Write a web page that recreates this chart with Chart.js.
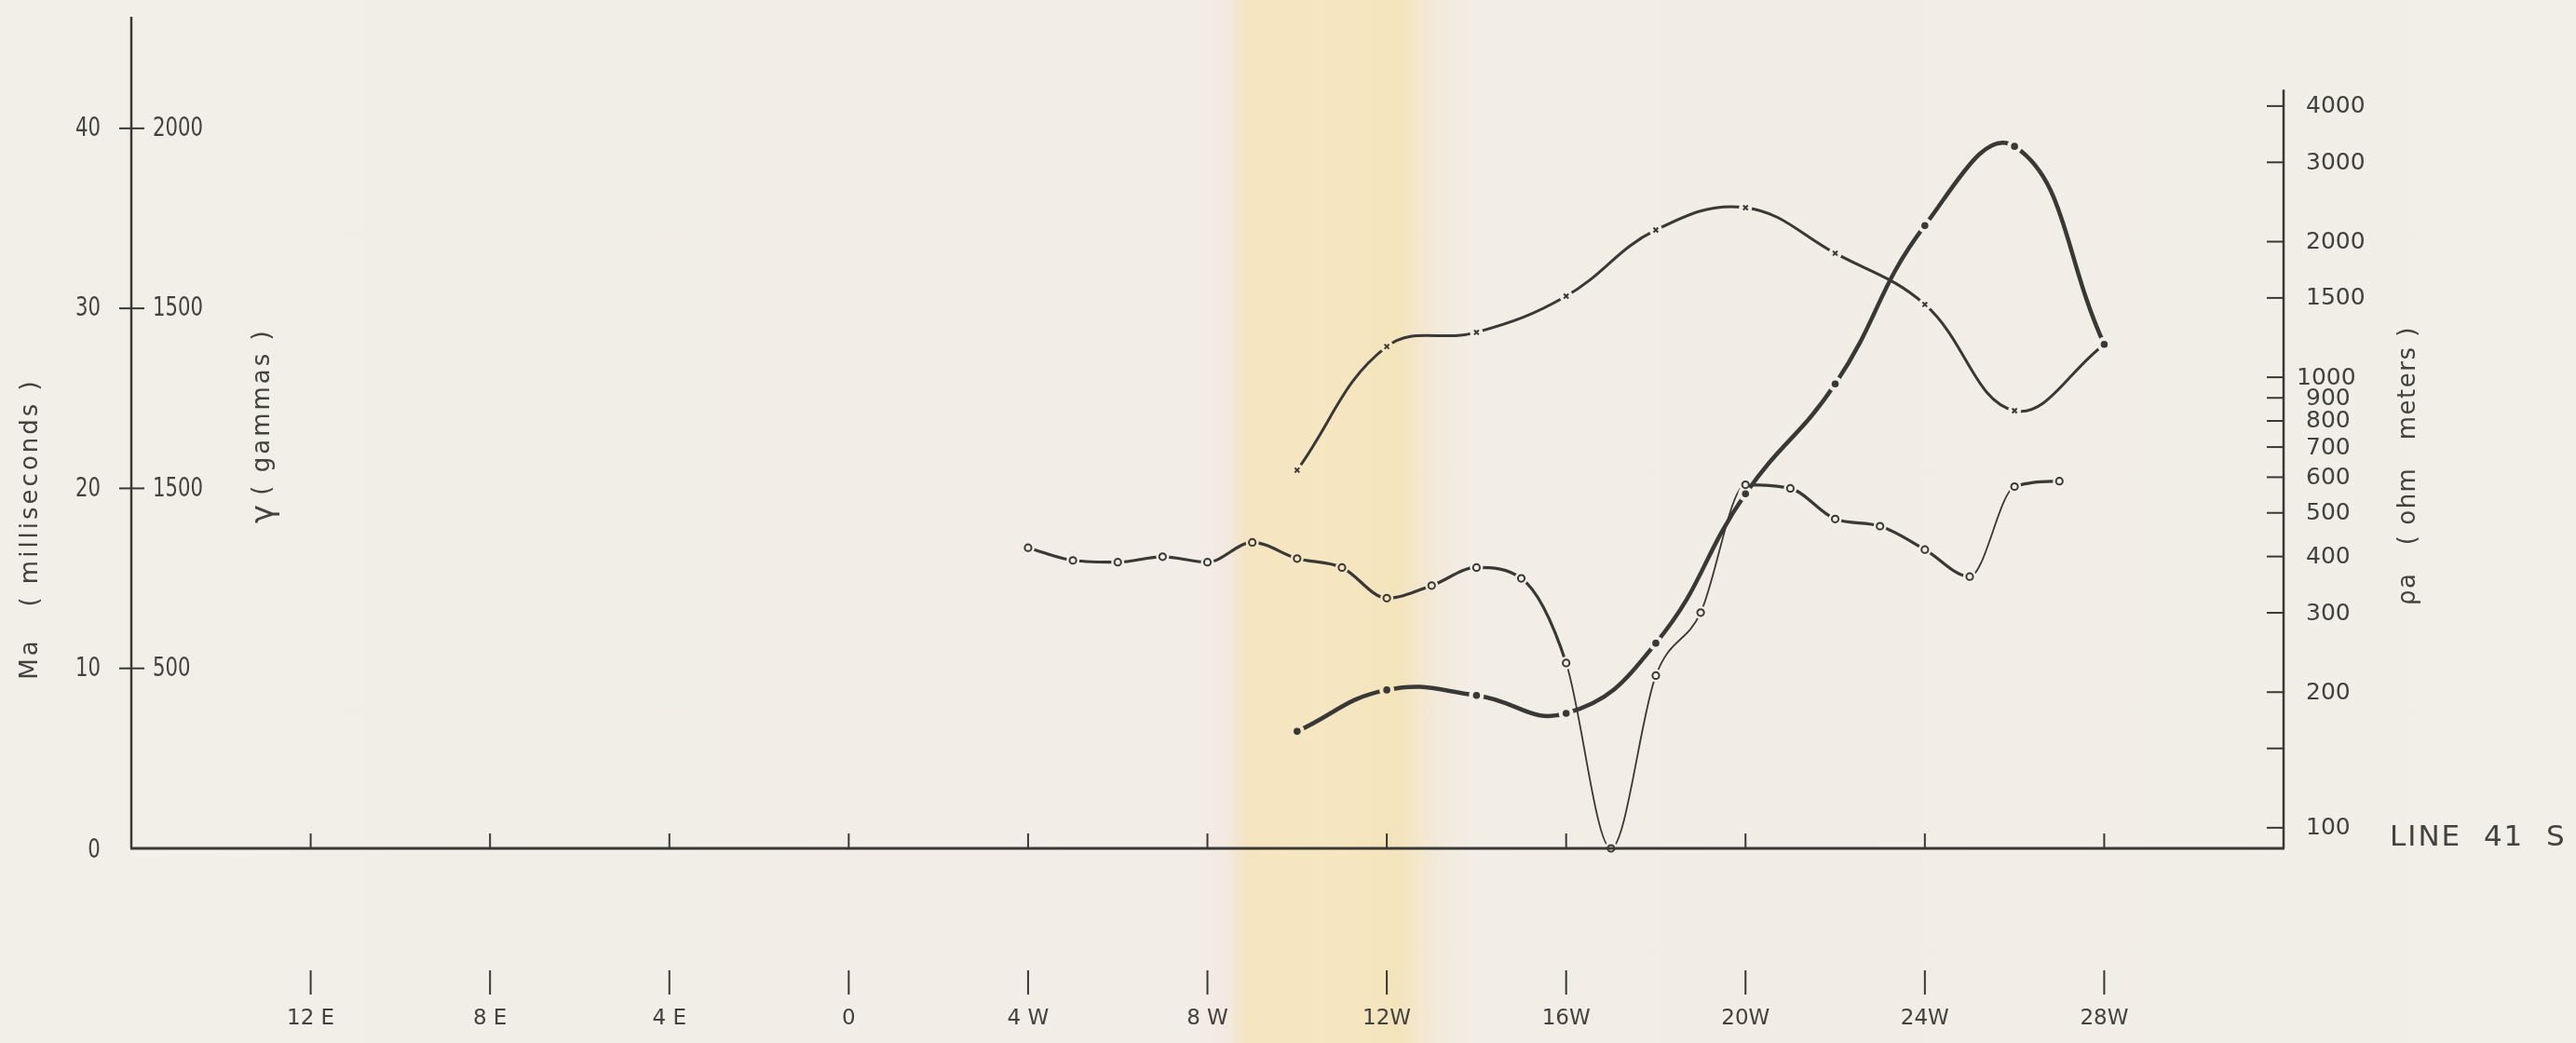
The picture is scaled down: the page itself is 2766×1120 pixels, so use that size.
<!DOCTYPE html>
<html>
<head>
<meta charset="utf-8">
<script src="https://cdn.jsdelivr.net/npm/chart.js@4.4.1/dist/chart.umd.min.js"></script>
<style>
  html, body { margin: 0; padding: 0; }
  body {
    width: 2766px; height: 1120px; overflow: hidden;
    background: linear-gradient(to right,
      #f1efe8 0px, #f2eee7 1280px, #f3e9e0 1318px, #f5e4c0 1340px,
      #f6e7c3 1420px, #f4e4bc 1500px, #f3e9d8 1540px, #f2ede5 1575px, #f1efe8 2766px);
  }
  canvas { display: block; }
</style>
</head>
<body>
<canvas id="chart" width="2766" height="1120"></canvas>
<script>
// stations: E is negative, W is positive
const stationTicks = [-12, -8, -4, 0, 4, 8, 12, 16, 20, 24, 28];
const stationLabels = ['12 E', '8 E', '4 E', '0', '4 W', '8 W', '12W', '16W', '20W', '24W', '28W'];

// Ma (milliseconds), filled dots
const maStations = [10, 12, 14, 16, 18, 20, 22, 24, 26, 28];
const maValues = [6.5, 8.8, 8.5, 7.5, 11.4, 19.7, 25.8, 34.6, 39.0, 28.0];

// rho a (ohm meters), crosses
const rhoStations = [10, 12, 14, 16, 18, 20, 22, 24, 26, 28];
const rhoValues = [622, 1170, 1258, 1514, 2123, 2380, 1885, 1451, 843, 1182];

// open circles, read on the Ma scale
const circleStations = [4, 5, 6, 7, 8, 9, 10, 11, 12, 13, 14, 15, 16, 17, 18, 19, 20, 21, 22, 23, 24, 25, 26, 27];
const circleValues = [16.7, 16.0, 15.9, 16.2, 15.9, 17.0, 16.1, 15.6, 13.9, 14.6, 15.6, 15.0,
  10.3, 0, 9.6, 13.1, 20.2, 20.0, 18.3, 17.9, 16.6, 15.1, 20.1, 20.4];

// left axis ticks (Ma) and the gamma labels written beside them
const maTicks = [10, 20, 30, 40];
const maTickLabels = ['10', '20', '30', '40'];
const gammaTickLabels = ['500', '1500', '1500', '2000'];

// right axis ticks (log)
const rhoTicks = [100, 150, 200, 300, 400, 500, 600, 700, 800, 900, 1000, 1500, 2000, 3000, 4000];
const rhoTickLabels = ['100', '', '200', '300', '400', '500', '600', '700', '800', '900', '1000', '1500', '2000', '3000', '4000'];

const INK = '#383836';
const TEXT = '#42423f';
const FONT = '"DejaVu Sans", "Liberation Sans", sans-serif';

const pts = (xs, ys) => xs.map((x, i) => ({ x, y: ys[i] }));

/** Cut a small gap round every point of a line dataset, like the pen lifts in the drawing */
const haloPlugin = {
  id: 'halo',
  afterDatasetDraw(chart, args) {
    const ds = chart.data.datasets[args.index];
    if (!ds.haloRadius) return;
    const ctx = chart.ctx;
    ctx.save();
    ctx.globalCompositeOperation = 'destination-out';
    for (const p of args.meta.data) {
      ctx.beginPath();
      ctx.arc(p.x, p.y, ds.haloRadius, 0, Math.PI * 2);
      ctx.fill();
    }
    ctx.restore();
  },
};

function vText(ctx, text, x, y) {
  ctx.save();
  ctx.translate(x, y);
  ctx.rotate(-Math.PI / 2);
  ctx.textAlign = 'center';
  ctx.textBaseline = 'middle';
  ctx.fillText(text, 0, 0);
  ctx.restore();
}

/** narrow lettering: squeeze the glyphs horizontally */
function nText(ctx, text, x, y, align, sx) {
  ctx.save();
  ctx.translate(x, y);
  ctx.scale(sx, 1);
  ctx.textAlign = align;
  ctx.fillText(text, 0, 0);
  ctx.restore();
}

/** Axes, ticks and lettering of the sheet */
const sheetPlugin = {
  id: 'sheet',
  afterDraw(chart) {
    const { ctx, chartArea: area } = chart;
    const xs = chart.scales.x, ym = chart.scales.yMa, yr = chart.scales.yRho;
    const left = area.left, right = area.right, bottom = area.bottom;
    ctx.save();
    ctx.strokeStyle = INK;
    ctx.lineCap = 'butt';

    // axis lines
    ctx.lineWidth = 2.5;
    ctx.beginPath();
    ctx.moveTo(left, area.top); ctx.lineTo(left, bottom);
    ctx.moveTo(right, yr.getPixelForValue(4350)); ctx.lineTo(right, bottom);
    ctx.stroke();
    ctx.lineWidth = 3;
    ctx.beginPath();
    ctx.moveTo(left - 1, bottom); ctx.lineTo(right + 1, bottom);
    ctx.stroke();

    ctx.fillStyle = TEXT;
    ctx.textBaseline = 'middle';

    // left ticks
    ctx.lineWidth = 2;
    ctx.font = '28px ' + FONT;
    maTicks.forEach((v, i) => {
      const y = ym.getPixelForValue(v);
      ctx.beginPath(); ctx.moveTo(left - 13, y); ctx.lineTo(left + 14, y); ctx.stroke();
      nText(ctx, maTickLabels[i], left - 33, y + 1, 'right', 0.76);
      nText(ctx, gammaTickLabels[i], left + 23, y + 1, 'left', 0.76);
    });
    nText(ctx, '0', left - 40, bottom + 3, 'center', 0.76);

    // right ticks
    ctx.font = '25px ' + FONT;
    rhoTicks.forEach((v, i) => {
      const y = yr.getPixelForValue(v);
      ctx.beginPath(); ctx.moveTo(right - 18, y); ctx.lineTo(right, y); ctx.stroke();
      if (rhoTickLabels[i]) {
        ctx.textAlign = 'left';
        ctx.fillText(rhoTickLabels[i], right + (v === 1000 ? 14 : 24), y + 1);
      }
    });

    // station ticks on the base line and the station row below
    ctx.font = '23px ' + FONT;
    stationTicks.forEach((s, i) => {
      const x = xs.getPixelForValue(s);
      ctx.beginPath();
      ctx.moveTo(x, bottom - 16); ctx.lineTo(x, bottom);
      ctx.moveTo(x, 1042); ctx.lineTo(x, 1068);
      ctx.stroke();
      ctx.textAlign = 'center';
      ctx.fillText(stationLabels[i], x, 1094);
    });

    // titles
    ctx.font = '26px ' + FONT;
    ctx.letterSpacing = '3px';
    vText(ctx, 'Ma   ( milliseconds )', 33, 568);
    vText(ctx, '( gammas )', 282, 442);
    ctx.font = '34px ' + FONT;
    ctx.letterSpacing = '0px';
    vText(ctx, 'γ', 284, 552);
    ctx.font = '26px ' + FONT;
    ctx.letterSpacing = '1.5px';
    vText(ctx, 'ρa   ( ohm   meters )', 2586, 500);
    ctx.font = '31px ' + FONT;
    ctx.letterSpacing = '2px';
    ctx.textAlign = 'left';
    ctx.fillText('LINE  41  S', 2566, 900);
    ctx.restore();
  },
};

const thinFrom = [16, 17, 18, 19, 25];

new Chart(document.getElementById('chart'), {
  type: 'line',
  data: {
    datasets: [
      // lines
      {
        data: pts(maStations, maValues), yAxisID: 'yMa', order: 2,
        borderColor: INK, borderWidth: 4.5, tension: 0.45, pointRadius: 0,
        haloRadius: 8, clip: false,
      },
      {
        data: pts(rhoStations, rhoValues), yAxisID: 'yRho', order: 2,
        borderColor: INK, borderWidth: 3, tension: 0.4, pointRadius: 0,
        haloRadius: 7, clip: false,
      },
      {
        data: pts(circleStations, circleValues), yAxisID: 'yMa', order: 2,
        borderColor: INK, borderWidth: 3.2, cubicInterpolationMode: 'monotone', pointRadius: 0,
        haloRadius: 7, clip: false,
        segment: {
          borderWidth: c => thinFrom.includes(c.p0.parsed.x) ? 1.8 : 3.2,
        },
      },
      // markers
      {
        data: pts(maStations, maValues), yAxisID: 'yMa', order: 1, showLine: false, clip: false,
        pointStyle: 'circle', pointRadius: 3.8, pointBorderWidth: 0,
        pointBackgroundColor: INK, pointBorderColor: INK,
      },
      {
        data: pts(rhoStations, rhoValues), yAxisID: 'yRho', order: 1, showLine: false, clip: false,
        pointStyle: 'crossRot', pointRadius: 3.5, pointBorderWidth: 2,
        pointBorderColor: INK,
      },
      {
        data: pts(circleStations, circleValues), yAxisID: 'yMa', order: 1, showLine: false, clip: false,
        pointStyle: 'circle', pointRadius: 3.6, pointBorderWidth: 2,
        pointBackgroundColor: 'rgba(0,0,0,0)', pointBorderColor: INK,
      },
    ],
  },
  options: {
    responsive: false,
    devicePixelRatio: 1,
    animation: false,
    events: [],
    layout: { padding: { left: 141, right: 314, top: 18, bottom: 209 } },
    plugins: { legend: { display: false }, tooltip: { enabled: false } },
    scales: {
      x: { type: 'linear', min: -16, max: 32, display: false },
      yMa: { type: 'linear', position: 'left', min: 0, max: 46.2, display: false },
      yRho: { type: 'logarithmic', position: 'right', min: 90, max: 6313, display: false },
    },
  },
  plugins: [haloPlugin, sheetPlugin],
});
</script>
</body>
</html>
